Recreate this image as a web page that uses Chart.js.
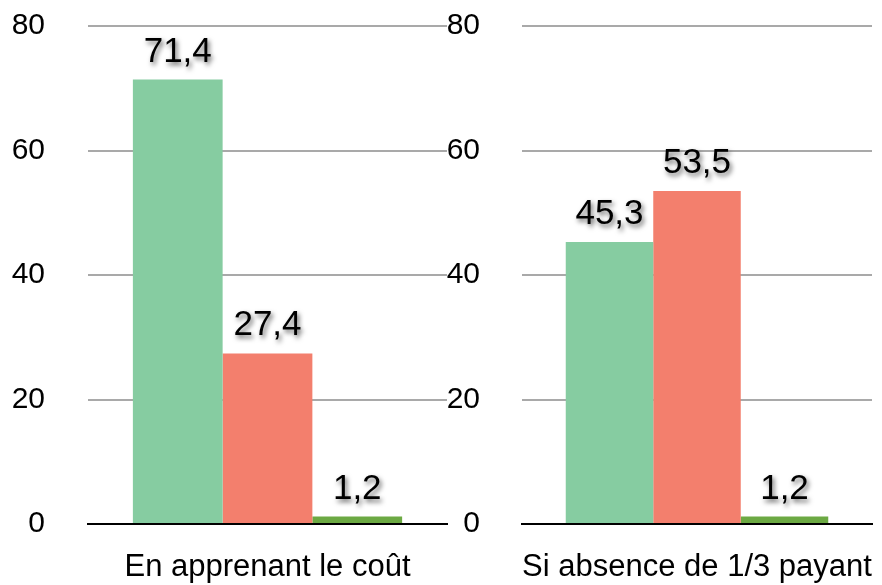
<!DOCTYPE html>
<html lang="fr">
<head>
<meta charset="utf-8">
<title>Coût / 1/3 payant</title>
<script src="https://cdn.jsdelivr.net/npm/chart.js@4.4.1/dist/chart.umd.min.js"></script>
<style>
  html, body { margin: 0; padding: 0; background: #fff; }
  #wrap { position: relative; width: 882px; height: 585px; overflow: hidden; }
  .panel { position: absolute; top: 0; height: 585px; }
  #p-left { left: 0; width: 450px; }
  #p-right { left: 440px; width: 442px; }
</style>
</head>
<body>
<div id="wrap">
  <div class="panel" id="p-left"><canvas id="chart-left"></canvas></div>
  <div class="panel" id="p-right"><canvas id="chart-right"></canvas></div>
</div>
<script>
// data
const seriesNames = ["Série 1", "Série 2", "Série 3"];
const seriesColours = ["#86cca1", "#f37f6d", "#6ca943"];
const leftCategory = ["En apprenant le coût"];
const rightCategory = ["Si absence de 1/3 payant"];
const leftValues = [71.4, 27.4, 1.2];
const rightValues = [45.3, 53.5, 1.2];
const yTicks = [0, 20, 40, 60, 80];

const FONT = "'Liberation Sans', Arial, Helvetica, sans-serif";

// value labels above each bar, with a soft shadow
const valueLabels = {
    id: "valueLabels",
    afterDatasetsDraw(chart) {
        const ctx = chart.ctx;
        ctx.save();
        ctx.font = "35px " + FONT;
        ctx.textAlign = "center";
        ctx.textBaseline = "alphabetic";
        ctx.fillStyle = "#000";
        ctx.shadowColor = "rgba(0,0,0,0.6)";
        ctx.shadowBlur = 5;
        ctx.shadowOffsetX = 2;
        ctx.shadowOffsetY = 3;
        chart.data.datasets.forEach((ds, i) => {
            chart.getDatasetMeta(i).data.forEach((bar, j) => {
                const txt = ds.data[j].toFixed(1).replace(".", ",");
                ctx.fillText(txt, bar.x, bar.y - 18);
            });
        });
        ctx.restore();
    }
};

function makeChart(canvasId, category, values, yWidth, tickPad, padRight) {
    return new Chart(document.getElementById(canvasId), {
        type: "bar",
        data: {
            labels: category,
            datasets: values.map((v, i) => ({
                label: seriesNames[i],
                data: [v],
                backgroundColor: seriesColours[i],
                categoryPercentage: 0.75,
                barPercentage: 1
            }))
        },
        options: {
            responsive: true,
            maintainAspectRatio: false,
            animation: false,
            layout: { padding: { top: 26, right: padRight, left: 0, bottom: 0 } },
            plugins: {
                legend: { display: false },
                tooltip: { enabled: false }
            },
            scales: {
                x: {
                    grid: { display: false, drawTicks: false },
                    border: { display: true, color: "#000", width: 2 },
                    ticks: { color: "#000", padding: 25, font: { family: FONT, size: 31 } },
                    afterFit: (s) => { s.height = 61; s.paddingLeft = 0; s.paddingRight = 0; }
                },
                y: {
                    min: 0,
                    max: 80,
                    afterBuildTicks: (s) => { s.ticks = yTicks.map(v => ({ value: v })); },
                    grid: { color: "#a9a9a9", lineWidth: 2, drawTicks: false },
                    border: { display: false },
                    ticks: { color: "#000", padding: tickPad, font: { family: FONT, size: 30 } },
                    afterFit: (s) => { s.width = yWidth; s.paddingTop = 0; s.paddingBottom = 0; }
                }
            }
        },
        plugins: [valueLabels]
    });
}

makeChart("chart-left", leftCategory, leftValues, 88, 43, 3);
makeChart("chart-right", rightCategory, rightValues, 82, 42, 10);
</script>
</body>
</html>
